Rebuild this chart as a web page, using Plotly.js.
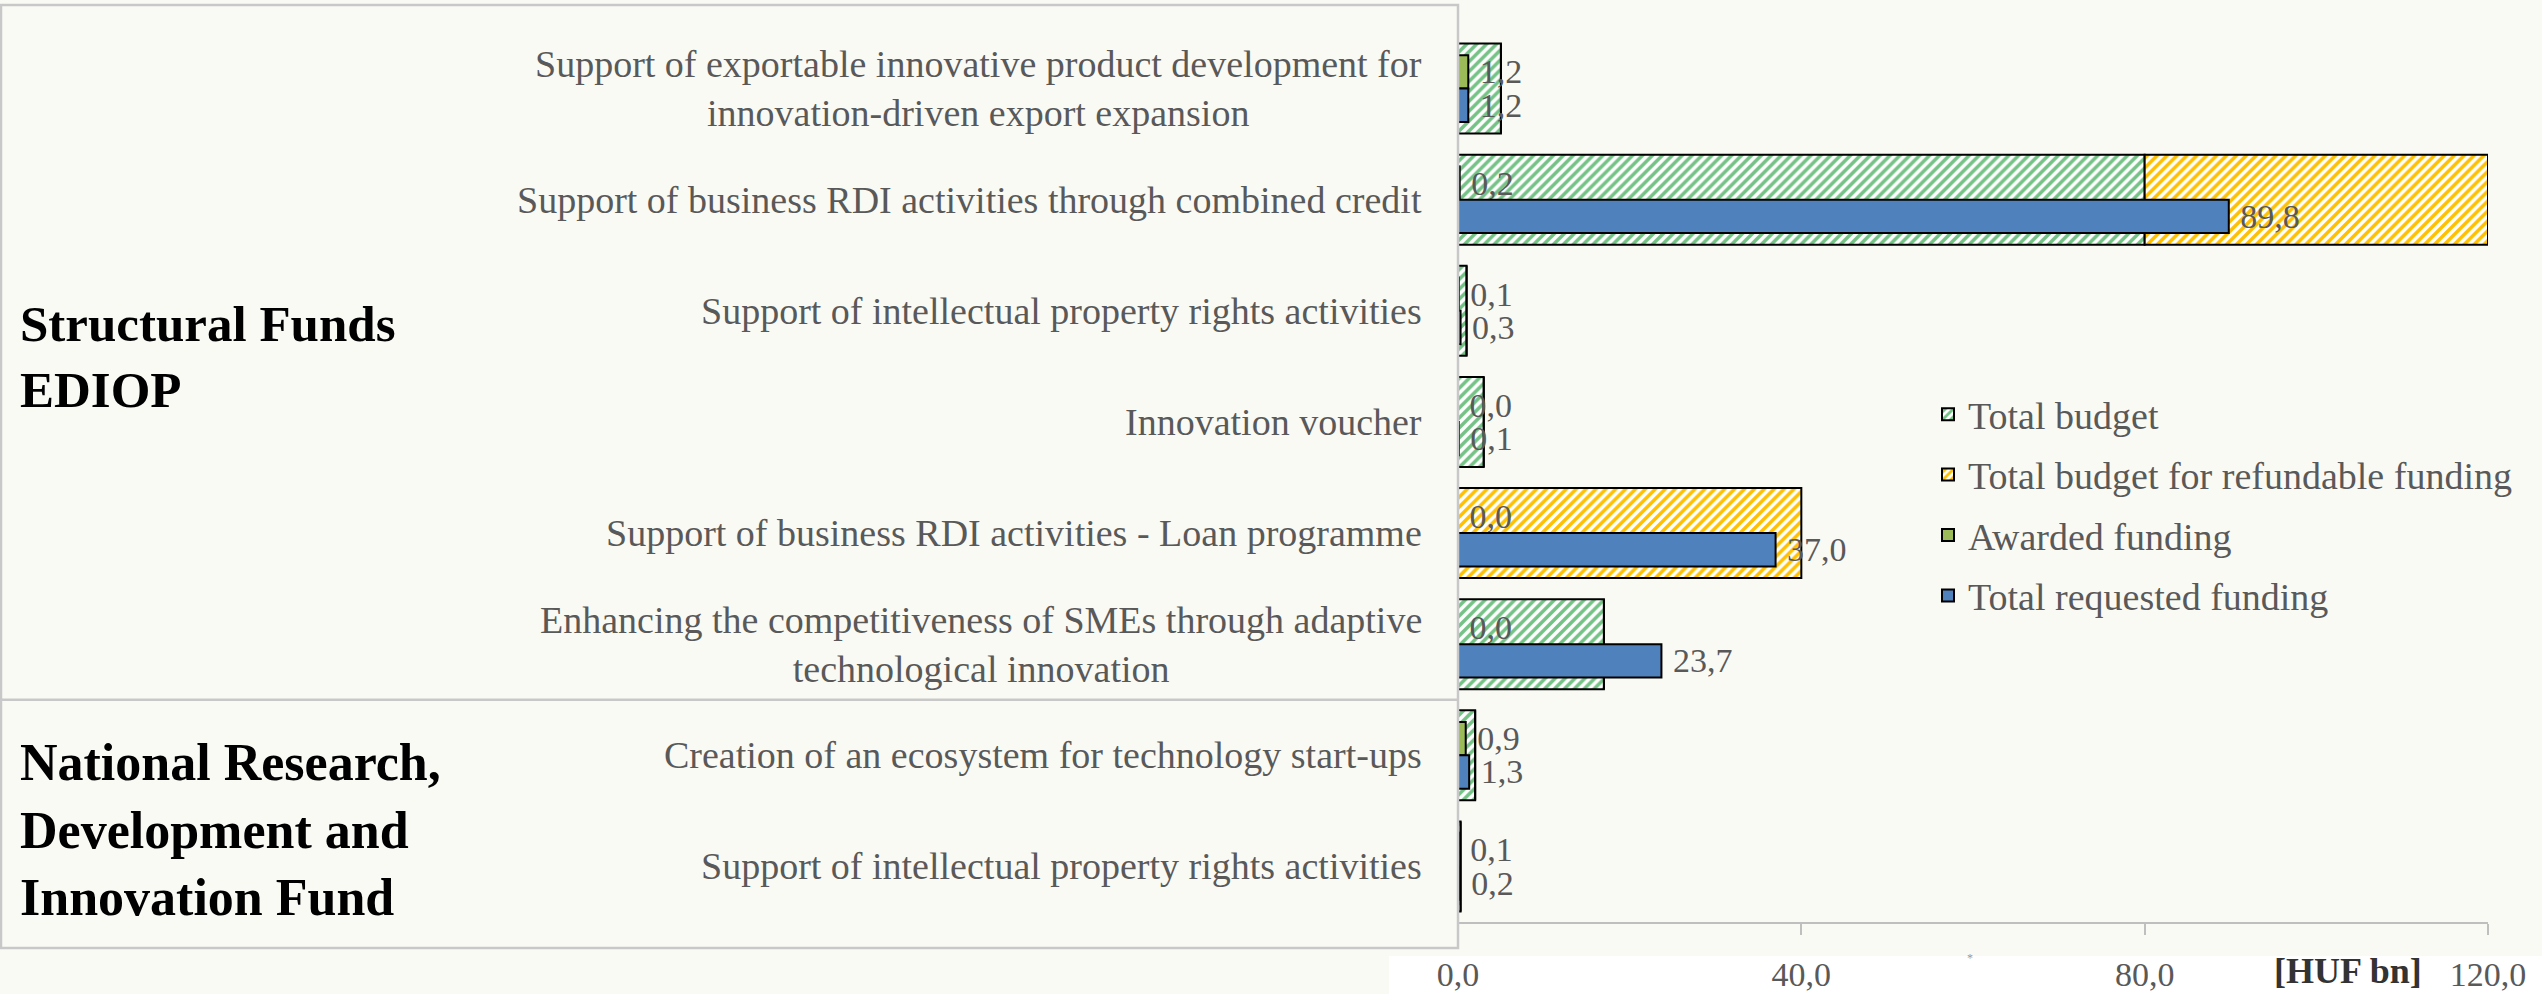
<!DOCTYPE html>
<html>
<head>
<meta charset="utf-8">
<script src="https://cdn.plot.ly/plotly-3.0.1.min.js"></script>
<style>
  html, body { margin: 0; padding: 0; background: #FAFAF5; }
  #chart { width: 2542px; height: 994px; }
</style>
</head>
<body>
<div id="chart"></div>
<script>
// ---- data ----
const categories = [
  "Support of exportable innovative product development for<br>innovation-driven export expansion",
  "Support of business RDI activities through combined credit",
  "Support of intellectual property rights activities",
  "Innovation voucher",
  "Support of business RDI activities - Loan programme",
  "Enhancing the competitiveness of SMEs through adaptive<br>technological innovation",
  "Creation of an ecosystem for technology start-ups",
  "Support of intellectual property rights activities"
];
const groupLabels = ["Structural Funds<br>EDIOP", "National Research,<br>Development and<br>Innovation Fund"];
const seriesNames = ["Total budget", "Total budget for refundable funding", "Awarded funding", "Total requested funding"];
const totalBudget = [5.0, 80.0, 1.0, 3.0, 0.0, 17.0, 2.0, 0.3];
const refundableBudget = [0.0, 40.0, 0.0, 0.0, 40.0, 0.0, 0.0, 0.0];
const awardedFunding = [1.2, 0.2, 0.1, 0.0, 0.0, 0.0, 0.9, 0.1];
const requestedFunding = [1.2, 89.8, 0.3, 0.1, 37.0, 23.7, 1.3, 0.2];
const xTicks = [0, 40, 80, 120];

// ---- layout helpers ----
const W = 2542, H = 994;
const L = 1458, R = 2488, T = 33, B = 922;
const px2x = p => (p - L) / (R - L);
const px2y = p => (B - p) / (B - T);
const pos = categories.map((c, i) => i);

const FONT = "Liberation Serif, Times New Roman, serif";
const GRAY = "#595959";
const lineStyle = { color: "#000000", width: 2 };

const traces = [
  {
    type: "bar", orientation: "h", name: seriesNames[0], legendgroup: "a",
    y: pos, x: totalBudget, width: 0.81, offset: -0.405,
    marker: { color: "#FFFFFF", line: lineStyle,
      pattern: { shape: "/", fgcolor: "#74C285", bgcolor: "#FFFFFF", size: 7, solidity: 0.5 } },
    hoverinfo: "x"
  },
  {
    type: "bar", orientation: "h", name: seriesNames[1], legendgroup: "b",
    y: pos, x: refundableBudget, base: totalBudget, width: 0.81, offset: -0.405,
    marker: { color: "#FFFFFF", line: lineStyle,
      pattern: { shape: "/", fgcolor: "#FFC000", bgcolor: "#FFFFFF", size: 7, solidity: 0.5 } },
    hoverinfo: "x"
  },
  {
    type: "bar", orientation: "h", name: seriesNames[2], legendgroup: "c",
    y: pos, x: awardedFunding, width: 0.30, offset: -0.30,
    marker: { color: "#9BBB59", line: lineStyle },
    texttemplate: "\u00a0%{x:.1f}", textposition: "outside", constraintext: "none", cliponaxis: false,
    textfont: { family: FONT, size: 34, color: GRAY }
  },
  {
    type: "bar", orientation: "h", name: seriesNames[3], legendgroup: "d",
    y: pos, x: requestedFunding, width: 0.30, offset: 0.0,
    marker: { color: "#4F81BD", line: lineStyle },
    texttemplate: "\u00a0%{x:.1f}", textposition: "outside", constraintext: "none", cliponaxis: false,
    textfont: { family: FONT, size: 34, color: GRAY }
  }
];

const annotations = [];
categories.forEach((c, i) => {
  annotations.push({
    text: c, xref: "paper", yref: "y", x: px2x(1424), y: i,
    xanchor: "right", yanchor: "middle", align: "center", showarrow: false,
    font: { family: FONT, size: 38, color: GRAY }
  });
});
annotations.push({
  text: "<b>" + groupLabels[0] + "</b>", xref: "paper", yref: "paper",
  x: px2x(18), y: px2y(357), xanchor: "left", yanchor: "middle", align: "left",
  showarrow: false, font: { family: FONT, size: 51, color: "#000000" }
});
annotations.push({
  text: "<b>" + groupLabels[1] + "</b>", xref: "paper", yref: "paper",
  x: px2x(18), y: px2y(830), xanchor: "left", yanchor: "middle", align: "left",
  showarrow: false, font: { family: FONT, size: 52, color: "#000000" }
});
annotations.push({
  text: "<b>[HUF bn]</b>", xref: "paper", yref: "paper",
  x: px2x(2348), y: px2y(971), xanchor: "center", yanchor: "middle",
  showarrow: false, font: { family: FONT, size: 36, color: "#333333" }
});
annotations.push({
  text: "*", xref: "paper", yref: "paper",
  x: px2x(1970), y: px2y(958), xanchor: "center", yanchor: "middle",
  showarrow: false, font: { family: FONT, size: 12, color: "#999999" }
});

const shapes = [
  { type: "rect", xref: "paper", yref: "paper", x0: px2x(1389), x1: px2x(W), y0: px2y(956), y1: px2y(H),
    fillcolor: "#FFFFFF", line: { width: 0 }, layer: "below" },
  { type: "rect", xref: "paper", yref: "paper", x0: px2x(1), x1: px2x(1458), y0: px2y(948), y1: px2y(5),
    line: { color: "#C8C8C8", width: 2.5 }, fillcolor: "rgba(0,0,0,0)", layer: "above" },
  { type: "line", xref: "paper", yref: "y", x0: px2x(1), x1: px2x(1458), y0: 5.5, y1: 5.5,
    line: { color: "#C8C8C8", width: 2.5 } }
];

const layout = {
  width: W, height: H,
  margin: { l: L, r: W - R, t: T, b: H - B, pad: 0 },
  paper_bgcolor: "#FAFAF5", plot_bgcolor: "#FAFAF5",
  barmode: "overlay",
  separators: ",.",
  font: { family: FONT, color: GRAY },
  showlegend: true,
  legend: {
    x: px2x(1928), y: px2y(383), xanchor: "left", yanchor: "top",
    bgcolor: "rgba(0,0,0,0)", font: { family: FONT, size: 38, color: GRAY },
    tracegroupgap: 8
  },
  xaxis: {
    range: [0, 120], tickvals: xTicks, tickformat: ".1f",
    showgrid: false, zeroline: false,
    showline: true, linecolor: "#BFBFBF", linewidth: 2,
    ticks: "outside", ticklen: 11, tickcolor: "#BFBFBF", tickwidth: 2,
    ticklabelstandoff: 10,
    tickfont: { family: FONT, size: 34, color: GRAY },
    fixedrange: true
  },
  yaxis: {
    range: [7.5, -0.5], showgrid: false, zeroline: false, showline: false,
    showticklabels: false, ticks: "", fixedrange: true
  },
  annotations: annotations,
  shapes: shapes
};

Plotly.newPlot("chart", traces, layout, { displayModeBar: false, staticPlot: true });
</script>
</body>
</html>
